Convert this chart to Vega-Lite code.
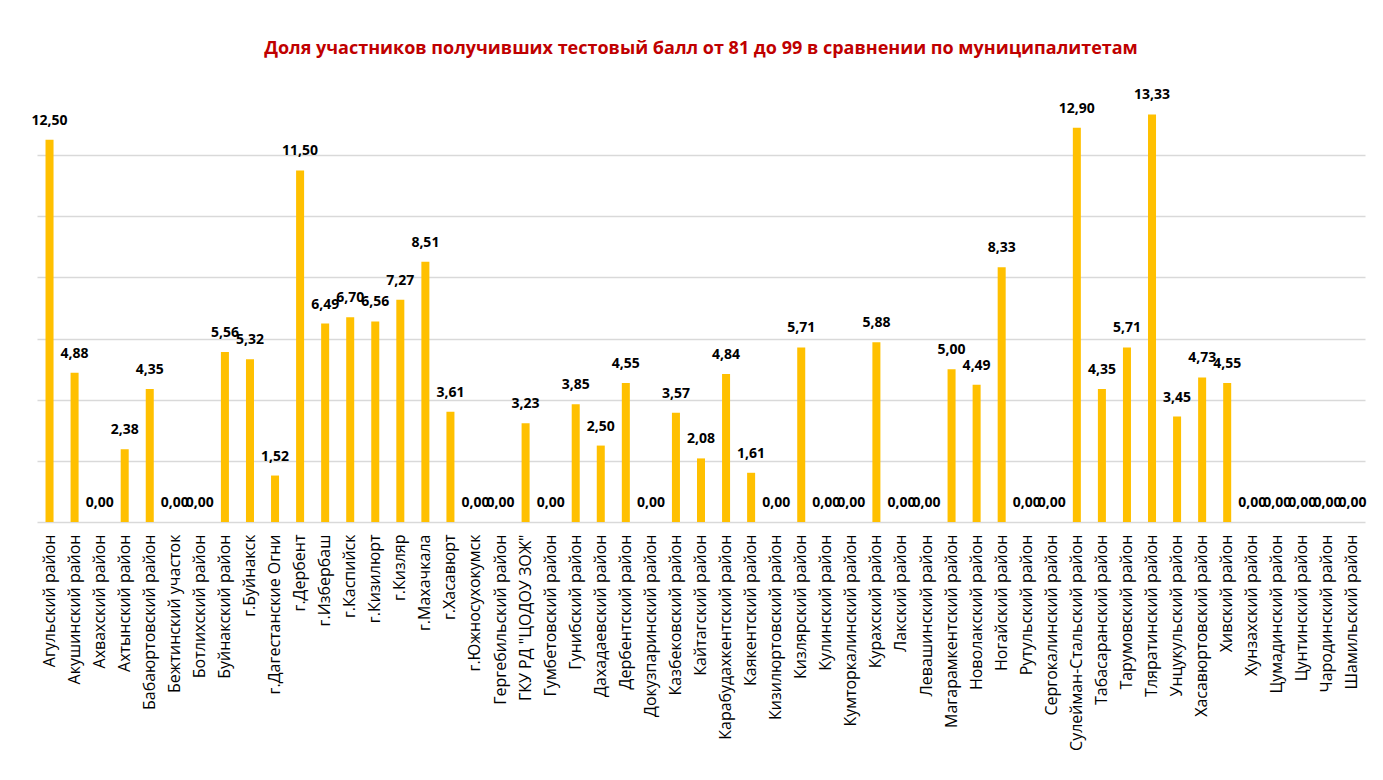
{
  "$schema": "https://vega.github.io/schema/vega-lite/v6.json",
  "width": 1328,
  "height": 428,
  "autosize": {"type": "none"},
  "padding": {"left": 37, "top": 94, "right": 18, "bottom": 258},
  "background": "white",
  "config": {
    "view": {"stroke": null},
    "locale": {"number": {"decimal": ",", "thousands": " ", "grouping": [3], "currency": ["", ""]}}
  },
  "title": {
    "text": "Доля участников получивших тестовый балл от 81 до 99 в сравнении по муниципалитетам",
    "color": "#C00000",
    "font": "Open Sans",
    "fontSize": 18,
    "fontWeight": "bold",
    "anchor": "middle",
    "baseline": "bottom",
    "offset": 12
  },
  "data": {
    "values": [
      {"m": "Агульский район", "v": 12.50},
      {"m": "Акушинский район", "v": 4.88},
      {"m": "Ахвахский район", "v": 0.00},
      {"m": "Ахтынский район", "v": 2.38},
      {"m": "Бабаюртовский район", "v": 4.35},
      {"m": "Бежтинский участок", "v": 0.00},
      {"m": "Ботлихский район", "v": 0.00},
      {"m": "Буйнакский район", "v": 5.56},
      {"m": "г.Буйнакск", "v": 5.32},
      {"m": "г.Дагестанские Огни", "v": 1.52},
      {"m": "г.Дербент", "v": 11.50},
      {"m": "г.Избербаш", "v": 6.49},
      {"m": "г.Каспийск", "v": 6.70},
      {"m": "г.Кизилюрт", "v": 6.56},
      {"m": "г.Кизляр", "v": 7.27},
      {"m": "г.Махачкала", "v": 8.51},
      {"m": "г.Хасавюрт", "v": 3.61},
      {"m": "г.Южносухокумск", "v": 0.00},
      {"m": "Гергебильский район", "v": 0.00},
      {"m": "ГКУ РД \"ЦОДОУ ЗОЖ\"", "v": 3.23},
      {"m": "Гумбетовский район", "v": 0.00},
      {"m": "Гунибский район", "v": 3.85},
      {"m": "Дахадаевский район", "v": 2.50},
      {"m": "Дербентский район", "v": 4.55},
      {"m": "Докузпаринский район", "v": 0.00},
      {"m": "Казбековский район", "v": 3.57},
      {"m": "Кайтагский район", "v": 2.08},
      {"m": "Карабудахкентский район", "v": 4.84},
      {"m": "Каякентский район", "v": 1.61},
      {"m": "Кизилюртовский район", "v": 0.00},
      {"m": "Кизлярский район", "v": 5.71},
      {"m": "Кулинский район", "v": 0.00},
      {"m": "Кумторкалинский район", "v": 0.00},
      {"m": "Курахский район", "v": 5.88},
      {"m": "Лакский район", "v": 0.00},
      {"m": "Левашинский район", "v": 0.00},
      {"m": "Магарамкентский район", "v": 5.00},
      {"m": "Новолакский район", "v": 4.49},
      {"m": "Ногайский район", "v": 8.33},
      {"m": "Рутульский район", "v": 0.00},
      {"m": "Сергокалинский район", "v": 0.00},
      {"m": "Сулейман-Стальский район", "v": 12.90},
      {"m": "Табасаранский район", "v": 4.35},
      {"m": "Тарумовский район", "v": 5.71},
      {"m": "Тляратинский район", "v": 13.33},
      {"m": "Унцукульский район", "v": 3.45},
      {"m": "Хасавюртовский район", "v": 4.73},
      {"m": "Хивский район", "v": 4.55},
      {"m": "Хунзахский район", "v": 0.00},
      {"m": "Цумадинский район", "v": 0.00},
      {"m": "Цунтинский район", "v": 0.00},
      {"m": "Чародинский район", "v": 0.00},
      {"m": "Шамильский район", "v": 0.00}
    ]
  },
  "encoding": {
    "x": {
      "field": "m",
      "type": "nominal",
      "sort": null,
      "scale": {"paddingInner": 0.68, "paddingOuter": 0.34},
      "axis": {
        "title": null,
        "labelAngle": -90,
        "labelAlign": "right",
        "labelBaseline": "middle",
        "labelFont": "Open Sans",
        "labelFontSize": 16,
        "labelColor": "#000000",
        "labelPadding": 12,
        "labelLimit": 300,
        "ticks": false,
        "domainColor": "#d9d9d9",
        "domainWidth": 1.5
      }
    },
    "y": {
      "field": "v",
      "type": "quantitative",
      "scale": {"domain": [0, 14], "nice": false},
      "axis": {
        "title": null,
        "labels": false,
        "ticks": false,
        "domain": false,
        "values": [2, 4, 6, 8, 10, 12],
        "grid": true,
        "gridColor": "#d9d9d9",
        "gridWidth": 1.5
      }
    }
  },
  "layer": [
    {"mark": {"type": "bar", "color": "#FFC000"}},
    {
      "mark": {
        "type": "text",
        "font": "Open Sans",
        "fontSize": 14,
        "fontWeight": "bold",
        "color": "#000000",
        "baseline": "alphabetic",
        "dy": -15
      },
      "encoding": {"text": {"field": "v", "type": "quantitative", "format": ".2f"}}
    }
  ]
}
